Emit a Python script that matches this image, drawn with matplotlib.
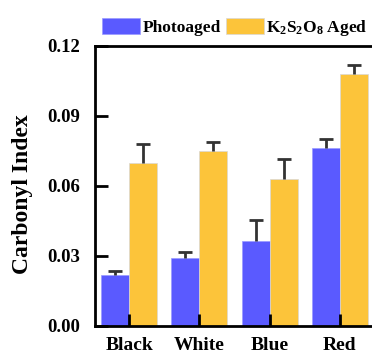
import numpy as np
import matplotlib
matplotlib.use('Agg')
import matplotlib.pyplot as plt

plt.rcParams['font.family'] = 'Liberation Serif'
plt.rcParams['font.weight'] = 'bold'
plt.rcParams['mathtext.fontset'] = 'custom'
plt.rcParams['mathtext.rm'] = 'Liberation Serif:bold'
plt.rcParams['mathtext.it'] = 'Liberation Serif:bold'
plt.rcParams['mathtext.bf'] = 'Liberation Serif:bold'

categories = ['Black', 'White', 'Blue', 'Red']
photoaged = [0.0220, 0.0291, 0.0366, 0.0762]
photoaged_err = [0.0017, 0.0027, 0.0087, 0.0040]
k2s2o8 = [0.0697, 0.0751, 0.0629, 0.1079]
k2s2o8_err = [0.0082, 0.0038, 0.0088, 0.0040]

fig = plt.figure(figsize=(3.72, 3.54), dpi=100)
ax = fig.add_axes([95 / 372, 28 / 354, 280 / 372, 280 / 354])

x = np.arange(len(categories))
w = 0.4
ax.bar(x - w / 2, photoaged, w, color='#5a5aff', edgecolor='#9a9aff', linewidth=0.5,
       label='Photoaged')
ax.bar(x + w / 2, k2s2o8, w, color='#fcc43a', edgecolor='#d8d8d8', linewidth=0.5,
       label='K$_2$S$_2$O$_8$ Aged')

# upper-only error bars
for xs, ys, es in [(x - w / 2, photoaged, photoaged_err), (x + w / 2, k2s2o8, k2s2o8_err)]:
    _, caps, _ = ax.errorbar(xs, ys, yerr=[np.zeros(4), es], fmt='none', ecolor='#333333',
                             elinewidth=2, capsize=5, capthick=2)
    caps[0].set_visible(False)

ax.set_xlim(-0.486, 3.5)
ax.set_ylim(0, 0.12)
ax.set_yticks([0, 0.03, 0.06, 0.09, 0.12])
ax.set_yticklabels(['0.00', '0.03', '0.06', '0.09', '0.12'])
ax.set_xticks(x)
ax.set_xticklabels(categories)
ax.tick_params(axis='both', direction='in', length=9, width=2, pad=8)
ax.tick_params(axis='y', labelsize=13.5, pad=11)
ax.tick_params(axis='x', labelsize=14)
for s in ax.spines.values():
    s.set_linewidth(2)

ax.set_ylabel('Carbonyl Index', fontsize=17, fontweight='bold')
ax.yaxis.set_label_coords(-0.22, 0.47)

ax.legend(loc='lower center', bbox_to_anchor=(0.5, 1.004), ncol=2, frameon=False,
          fontsize=12.5, handlelength=2.2, handleheight=1.05, handletextpad=0.15,
          columnspacing=0.25, borderaxespad=0.0)

fig.savefig('out.png', dpi=100)
